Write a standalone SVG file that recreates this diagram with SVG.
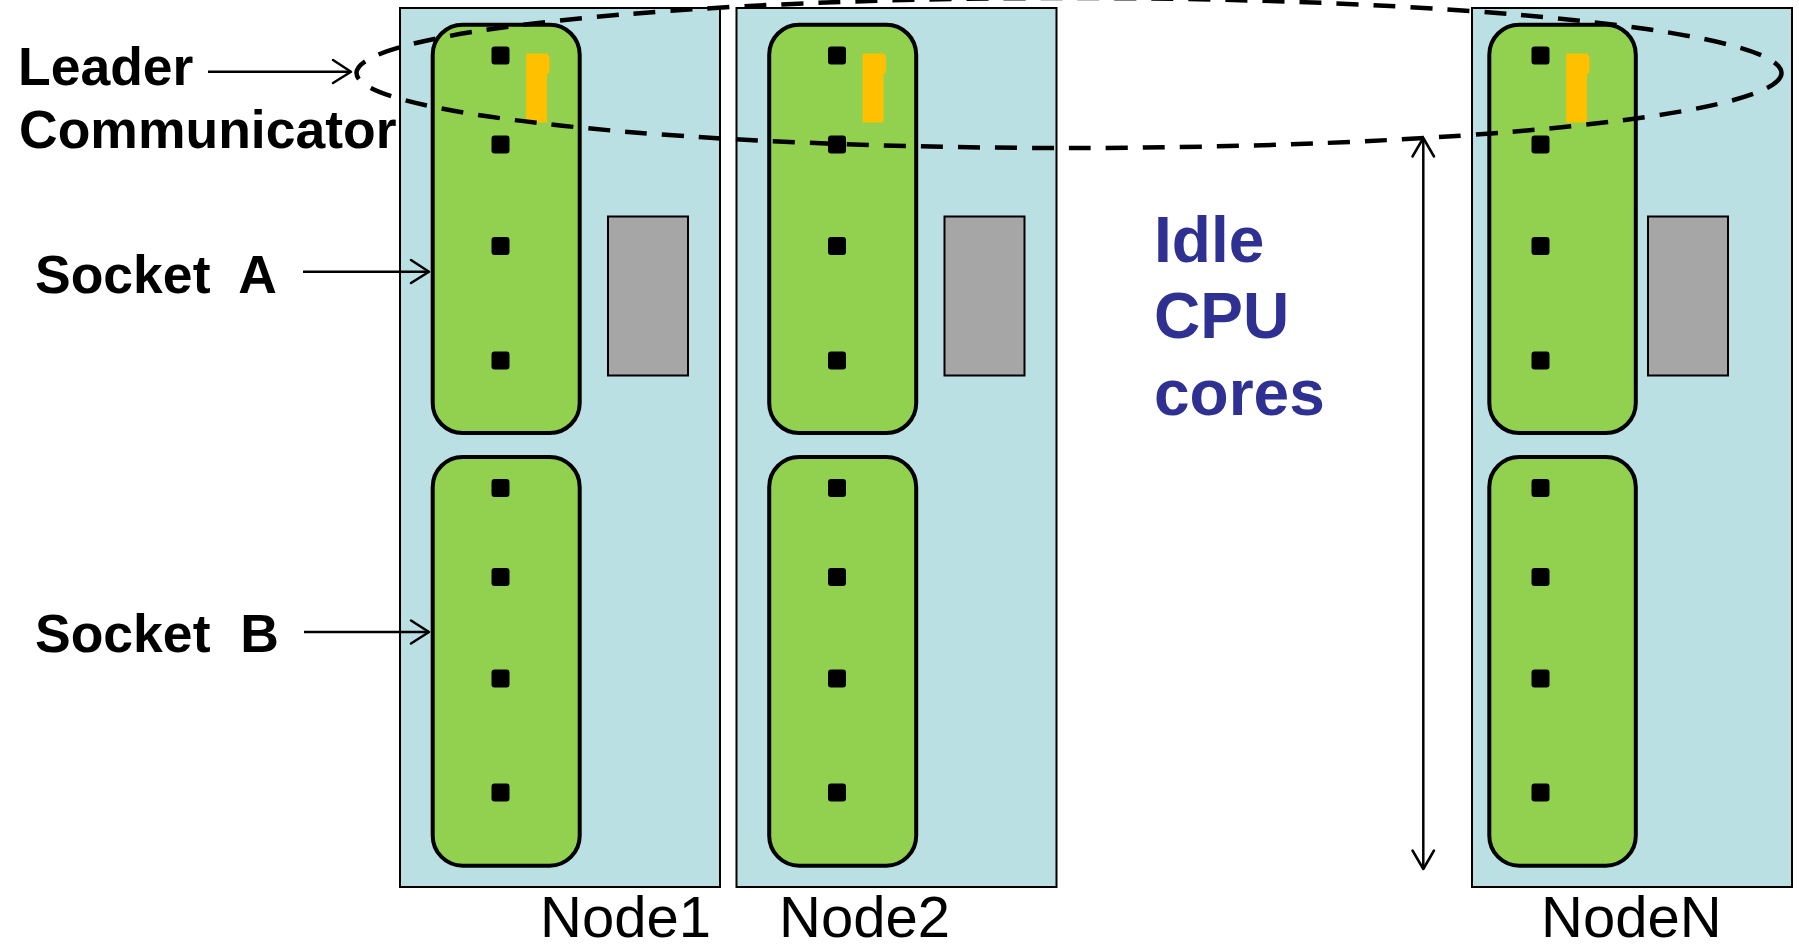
<svg xmlns="http://www.w3.org/2000/svg" width="1799" height="944" viewBox="0 0 1799 944">
<defs>
<style>
.node{fill:#BAE0E3;stroke:#000;stroke-width:2}
.sock{fill:#92D050;stroke:#000;stroke-width:4}
.core{fill:#000}
.mem{fill:#A6A6A6;stroke:#000;stroke-width:2}
.lead{fill:#FFC000;stroke:#FFC000;stroke-width:3;stroke-linejoin:round}
.lbl{font-family:"Liberation Sans",Arial,sans-serif;font-weight:bold;font-size:53.5px;fill:#000;white-space:pre}
.nlbl{font-family:"Liberation Sans",Arial,sans-serif;font-size:58px;fill:#000}
.idle{font-family:"Liberation Sans",Arial,sans-serif;font-weight:bold;font-size:64px;fill:#2E3192}
.conn{fill:none;stroke:#000;stroke-width:2.5}
.ah{fill:none;stroke:#000;stroke-width:2.5;stroke-linecap:round;stroke-linejoin:round}
</style>
<g id="cores">
<rect class="core" x="-9" y="-9" width="18" height="18" rx="3"/>
</g>
</defs>
<rect width="1799" height="944" fill="#fff"/>

<g id="node1">
<rect class="node" x="400" y="8" width="320" height="879"/>
<rect class="sock" x="432.7" y="24.7" width="147" height="408.3" rx="30"/>
<rect class="sock" x="432.7" y="457" width="147" height="408.7" rx="30"/>
<use href="#cores" x="500.5" y="55.5"/>
<use href="#cores" x="500.5" y="144.5"/>
<use href="#cores" x="500.5" y="246"/>
<use href="#cores" x="500.5" y="360.5"/>
<use href="#cores" x="500.5" y="488"/>
<use href="#cores" x="500.5" y="577"/>
<use href="#cores" x="500.5" y="678.5"/>
<use href="#cores" x="500.5" y="792.5"/>
<rect class="mem" x="608" y="216.5" width="80" height="159"/>
<path class="lead" d="M527.5,55 H546.5 L548,57 V72 H545.5 V121 H527.5 Z"/>
<text class="nlbl" x="540" y="937">Node1</text>
</g>

<g id="node2">
<rect class="node" x="736.5" y="8" width="320" height="879"/>
<rect class="sock" x="769.2" y="24.7" width="147" height="408.3" rx="30"/>
<rect class="sock" x="769.2" y="457" width="147" height="408.7" rx="30"/>
<use href="#cores" x="837" y="55.5"/>
<use href="#cores" x="837" y="144.5"/>
<use href="#cores" x="837" y="246"/>
<use href="#cores" x="837" y="360.5"/>
<use href="#cores" x="837" y="488"/>
<use href="#cores" x="837" y="577"/>
<use href="#cores" x="837" y="678.5"/>
<use href="#cores" x="837" y="792.5"/>
<rect class="mem" x="944.5" y="216.5" width="80" height="159"/>
<path class="lead" d="M864,55 H883 L884.5,57 V72 H882 V121 H864 Z"/>
<text class="nlbl" x="779" y="937">Node2</text>
</g>

<g id="nodeN">
<rect class="node" x="1472" y="8" width="320" height="879"/>
<rect class="sock" x="1489.3" y="24.7" width="146.5" height="408.3" rx="30"/>
<rect class="sock" x="1489.3" y="457" width="146.5" height="408.7" rx="30"/>
<use href="#cores" x="1540.5" y="55.5"/>
<use href="#cores" x="1540.5" y="144.5"/>
<use href="#cores" x="1540.5" y="246"/>
<use href="#cores" x="1540.5" y="360.5"/>
<use href="#cores" x="1540.5" y="488"/>
<use href="#cores" x="1540.5" y="577"/>
<use href="#cores" x="1540.5" y="678.5"/>
<use href="#cores" x="1540.5" y="792.5"/>
<rect class="mem" x="1648" y="216.5" width="80" height="159"/>
<path class="lead" d="M1567.5,55 H1586.5 L1588,57 V72 H1585.5 V121 H1567.5 Z"/>
<text class="nlbl" x="1541" y="937">NodeN</text>
</g>

<g id="labels">
<text class="lbl" x="18" y="85">Leader</text>
<text class="lbl" x="19" y="148">Communicator</text>
<text class="lbl" x="35" y="293">Socket  A</text>
<text class="lbl" x="35" y="652">Socket  B</text>
<text class="idle" x="1154" y="262">Idle</text>
<text class="idle" x="1154" y="338">CPU</text>
<text class="idle" x="1154" y="415">cores</text>
</g>

<g id="connectors">
<ellipse cx="1069" cy="73" rx="712.5" ry="75" fill="none" stroke="#000" stroke-width="4.5" stroke-dasharray="22 15"/>
<line class="conn" x1="208" y1="71.7" x2="351" y2="71.7"/>
<path class="ah" d="M333,60 L351,71.7 L333,83"/>
<line class="conn" x1="303" y1="271.7" x2="429" y2="271.7"/>
<path class="ah" d="M411,260 L429,271.7 L411,283"/>
<line class="conn" x1="304" y1="632" x2="429" y2="632"/>
<path class="ah" d="M411,620.5 L429,632 L411,643.5"/>
<line class="conn" x1="1423.3" y1="138" x2="1423.3" y2="869"/>
<path class="ah" d="M1412.5,156.5 L1423.3,138 L1434,156.5"/>
<path class="ah" d="M1412.5,850.5 L1423.3,869 L1434,850.5"/>
</g>
</svg>
